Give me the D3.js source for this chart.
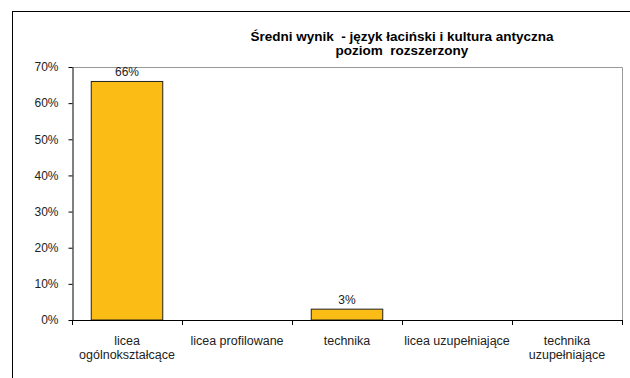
<!DOCTYPE html>
<html><head><meta charset="utf-8">
<script src="https://cdn.jsdelivr.net/npm/d3@7/dist/d3.min.js"></script>
<style>body{margin:0;background:#fff}svg{display:block;font-family:"Liberation Sans",Arial,sans-serif}</style>
</head><body><div id="c"></div>
<script>
const categories = [["licea","ogólnokształcące"],["licea profilowane"],["technika"],["licea uzupełniające"],["technika","uzupełniające"]];
const values = [0.66, null, 0.03, null, null];
const valueLabels = ["66%", "", "3%", "", ""];
const yTicks = [0,0.1,0.2,0.3,0.4,0.5,0.6,0.7];
const titleLines = ["Średni wynik  - język łaciński i kultura antyczna","poziom  rozszerzony"];

const W=630,H=378;
const svg=d3.select("#c").append("svg").attr("width",W).attr("height",H);
// outer frame
svg.append("rect").attr("x",12.5).attr("y",11.5).attr("width",W).attr("height",H).attr("fill","none").attr("stroke","#000").attr("stroke-width",1);

const L=72,R=622,T=67,B=320;
const x=d3.scaleBand().domain(d3.range(categories.length)).range([L,R]).paddingInner(0.35).paddingOuter(0.175);
const xb=d3.scaleBand().domain(d3.range(categories.length)).range([L,R]);
const y=d3.scaleLinear().domain([0,0.7]).range([B,T]);

// plot border top/right gray
svg.append("path").attr("d",`M${L},${T+0.5}H${R+0.5}V${B}`).attr("fill","none").attr("stroke","#999").attr("stroke-width",1);

// bars
svg.selectAll("rect.bar").data(values.map((v,i)=>({v,i})).filter(d=>d.v!=null)).enter().append("rect")
 .attr("x",d=>x(d.i)).attr("y",d=>y(d.v)).attr("width",x.bandwidth()).attr("height",d=>B-y(d.v))
 .attr("fill","#FBBC16").attr("stroke","#222").attr("stroke-width",1);

// value labels
svg.selectAll("text.vl").data(values.map((v,i)=>({v,i,l:valueLabels[i]})).filter(d=>d.v!=null)).enter().append("text")
 .attr("x",d=>x(d.i)+x.bandwidth()/2).attr("y",d=>y(d.v)-5).attr("text-anchor","middle")
 .attr("font-size",12).attr("fill","#222").text(d=>d.l);

// y axis
const ya=svg.append("g").attr("transform",`translate(${L+0.5},0)`)
 .call(d3.axisLeft(y).tickValues(yTicks).tickFormat(d3.format(".0%")).tickSize(4).tickSizeOuter(0));
ya.select(".domain").attr("stroke","#000");
ya.selectAll("text").attr("font-size",12).attr("fill","#222").attr("font-family","Liberation Sans, Arial, sans-serif").attr("dx","-7");

// x axis
svg.append("line").attr("x1",L).attr("x2",R+1).attr("y1",B+0.5).attr("y2",B+0.5).attr("stroke","#000");
const bounds=d3.range(categories.length+1).map(i=>i<categories.length?xb(i):R);
svg.selectAll("line.xt").data(bounds).enter().append("line")
 .attr("x1",d=>Math.round(d)+0.5).attr("x2",d=>Math.round(d)+0.5).attr("y1",B).attr("y2",B+5).attr("stroke","#000");

const lab=svg.selectAll("text.cl").data(categories).enter().append("text")
 .attr("x",(d,i)=>xb(i)+xb.bandwidth()/2).attr("y",345).attr("text-anchor","middle")
 .attr("font-size",12.5).attr("fill","#222");
lab.selectAll("tspan").data(d=>d).enter().append("tspan")
 .attr("x",function(){return this.parentNode.getAttribute("x");}).attr("dy",(d,i)=>i?14:0).text(d=>d);

// title
svg.selectAll("text.t").data(titleLines).enter().append("text")
 .attr("x",402).attr("y",(d,i)=>41+i*14).attr("text-anchor","middle")
 .attr("font-size",13.5).attr("font-weight","bold").attr("fill","#000").attr("xml:space","preserve")
 .style("white-space","pre").text(d=>d);
</script></body></html>
